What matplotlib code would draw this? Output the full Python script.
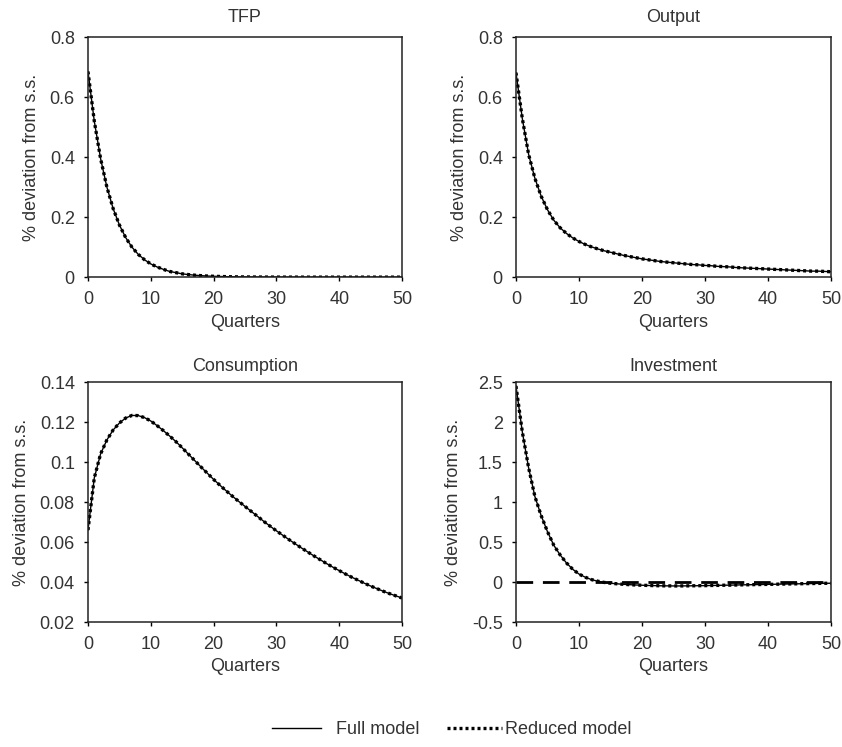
import numpy as np
import matplotlib
matplotlib.use('Agg')
import matplotlib.pyplot as plt
from matplotlib.ticker import FuncFormatter

plt.rcParams['font.family'] = ['Liberation Sans', 'DejaVu Sans']
plt.rcParams['axes.unicode_minus'] = False

# Quarters after the shock
quarters = list(range(51))

# Impulse responses (% deviation from steady state)
tfp = [0.686, 0.521, 0.396, 0.301, 0.229, 0.174, 0.132, 0.100, 0.076, 0.058,
       0.044, 0.034, 0.026, 0.019, 0.015, 0.011, 0.0085, 0.0065, 0.0049, 0.0037,
       0.0028, 0.0022, 0.0016, 0.0012, 0.0009, 0.0007, 0.0005, 0.0004, 0.0003, 0.0002,
       0.0002, 0.0001, 0.0001, 0.0001, 0.0, 0.0, 0.0, 0.0, 0.0, 0.0,
       0.0, 0.0, 0.0, 0.0, 0.0, 0.0, 0.0, 0.0, 0.0, 0.0, 0.0]

output = [0.682, 0.53, 0.41, 0.33, 0.27, 0.225, 0.19, 0.165, 0.146, 0.131,
          0.119, 0.109, 0.101, 0.094, 0.088, 0.083, 0.078, 0.073, 0.069, 0.065,
          0.061, 0.058, 0.055, 0.052, 0.050, 0.048, 0.046, 0.044, 0.042, 0.041,
          0.039, 0.038, 0.036, 0.035, 0.034, 0.032, 0.031, 0.030, 0.029, 0.028,
          0.027, 0.026, 0.025, 0.024, 0.023, 0.022, 0.021, 0.020, 0.020, 0.019, 0.018]

consumption = [0.066, 0.092, 0.104, 0.111, 0.116, 0.1195, 0.1220, 0.1233, 0.1232, 0.1222,
               0.1205, 0.1182, 0.1157, 0.1130, 0.1102, 0.1071, 0.1039, 0.1007, 0.0975, 0.0944,
               0.0913, 0.0884, 0.0856, 0.0829, 0.0803, 0.0778, 0.0753, 0.0728, 0.0703, 0.0679,
               0.0656, 0.0634, 0.0612, 0.0591, 0.0570, 0.0550, 0.0530, 0.0511, 0.0492, 0.0474,
               0.0457, 0.0440, 0.0424, 0.0409, 0.0394, 0.0380, 0.0367, 0.0354, 0.0342, 0.0331, 0.032]

investment = [2.45, 1.88, 1.43, 1.07, 0.83, 0.63, 0.46, 0.34, 0.24, 0.16,
              0.10, 0.06, 0.03, 0.01, -0.005, -0.015, -0.022, -0.028, -0.033, -0.037,
              -0.040, -0.043, -0.045, -0.047, -0.048, -0.049, -0.049, -0.048, -0.047, -0.046,
              -0.045, -0.043, -0.042, -0.040, -0.039, -0.037, -0.035, -0.034, -0.032, -0.031,
              -0.029, -0.028, -0.026, -0.025, -0.023, -0.022, -0.020, -0.019, -0.017, -0.016, -0.015]

titles = ['TFP', 'Output', 'Consumption', 'Investment']
full_model = [tfp, output, consumption, investment]
reduced_model = [tfp, output, consumption, investment]
ylims = [(0, 0.8), (0, 0.8), (0.02, 0.14), (-0.5, 2.5)]
yticks = [np.arange(0, 0.81, 0.2), np.arange(0, 0.81, 0.2),
          np.arange(0.02, 0.141, 0.02), np.arange(-0.5, 2.51, 0.5)]

fig = plt.figure(figsize=(8.42, 7.47), dpi=100)
txt = '#333333'
fs = 13

# axes boxes: left, bottom, width, height
boxes = [[0.1045, 0.629, 0.373, 0.321],
         [0.6128, 0.629, 0.374, 0.321],
         [0.1045, 0.1673, 0.373, 0.3213],
         [0.6128, 0.1673, 0.374, 0.3213]]
title_pads = [11, 11, 8, 8]

fmt = FuncFormatter(lambda v, p: ('%.2f' % v).rstrip('0').rstrip('.') if abs(v) > 1e-9 else '0')

for i in range(4):
    ax = fig.add_axes(boxes[i])
    if titles[i] == 'Investment':
        ax.plot([0, 50], [0, 0], color='black', lw=2, linestyle=(0, (6, 3.5)))
    l1, = ax.plot(quarters, full_model[i], color='black', lw=1, label='Full model')
    l2, = ax.plot(quarters, reduced_model[i], color='black', lw=2.4,
                  linestyle=(0, (0.9, 0.9)), label='Reduced model')
    ax.set_xlim(0, 50)
    ax.set_ylim(*ylims[i])
    ax.set_xticks(range(0, 51, 10))
    ax.set_yticks(yticks[i])
    ax.yaxis.set_major_formatter(fmt)
    ax.set_title(titles[i], fontsize=fs, color=txt, pad=title_pads[i])
    ax.set_xlabel('Quarters', fontsize=fs, color=txt, labelpad=4)
    ax.set_ylabel('% deviation from s.s.', fontsize=fs, color=txt, labelpad=7)
    ax.tick_params(labelsize=fs, labelcolor=txt, length=3, width=1, direction='out')
    ax.tick_params(axis='x', pad=7)
    ax.tick_params(axis='y', pad=6.5)
    for s in ax.spines.values():
        s.set_linewidth(1.1)
        s.set_color('#222222')

# two legend pieces, laid out side by side as in the original
fig.legend([l1], ['Full model'], loc='center left', bbox_to_anchor=(272 / 842, 0.023),
           frameon=False, fontsize=fs, handlelength=2.7, handletextpad=0.85,
           borderpad=0, borderaxespad=0, labelcolor=txt)
fig.legend([l2], ['Reduced model'], loc='center left', bbox_to_anchor=(447 / 842, 0.023),
           frameon=False, fontsize=fs, handlelength=3.05, handletextpad=0.15,
           borderpad=0, borderaxespad=0, labelcolor=txt)

plt.savefig('out.png', dpi=100)
